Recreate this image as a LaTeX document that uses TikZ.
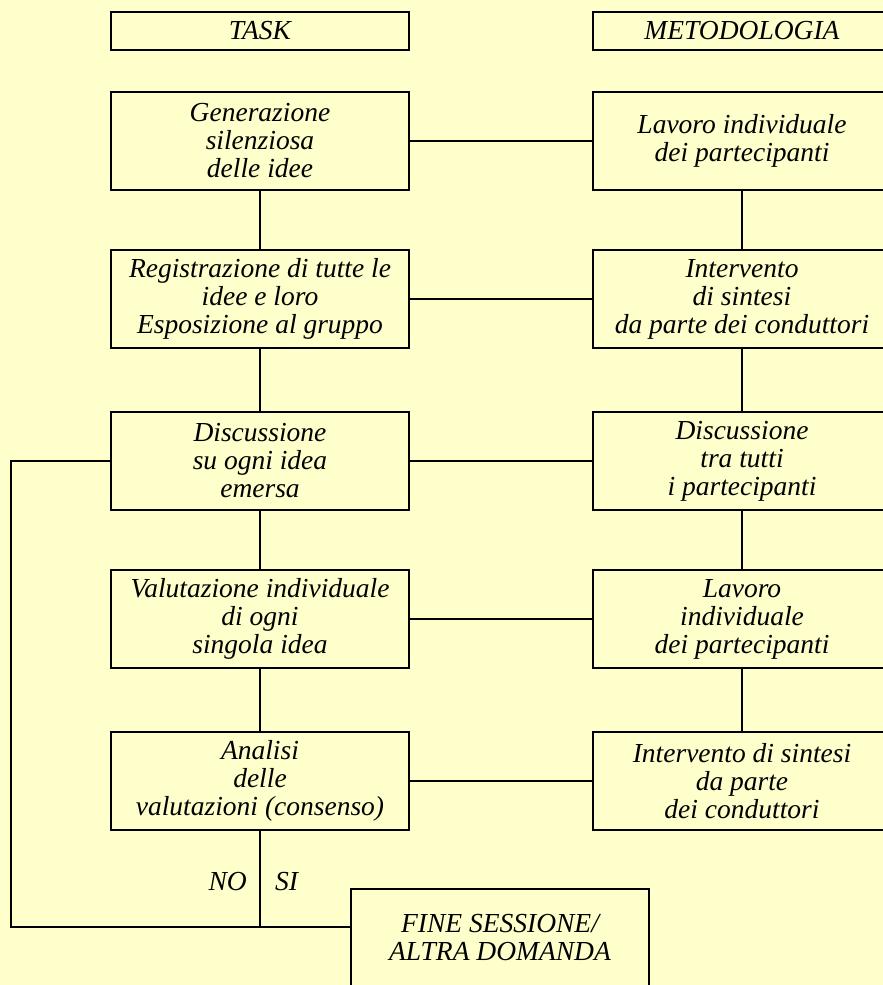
\documentclass[tikz,border=0pt]{standalone}
\usepackage{fontspec}
\setmainfont{Liberation Serif}
\definecolor{bgyellow}{HTML}{FFFFCC}
\begin{document}
\begin{tikzpicture}[x=1pt,y=-1pt,
  box/.style={draw=black,line width=1.5pt,fill=bgyellow,rectangle,minimum width=298pt,minimum height=98pt,inner sep=0pt,align=center,font=\fontsize{27.5}{28}\selectfont\itshape},
  headbox/.style={box,minimum height=38pt},
  conn/.style={draw=black,line width=1.5pt},
  lbl/.style={inner sep=0pt,font=\fontsize{27.5}{28}\selectfont\itshape}]
\useasboundingbox (0,0) rectangle (883,985);
\clip (0,0) rectangle (883,985);
\fill[bgyellow] (0,0) rectangle (883,985);
% headers
\node[headbox] (task) at (260,31) {TASK};
\node[headbox] (meto) at (742,31) {METODOLOGIA};
% left column
\node[box] (l1) at (260,141) {Generazione\\silenziosa\\ delle idee};
\node[box] (l2) at (260,299) {Registrazione di tutte le\\idee e loro\\Esposizione al gruppo};
\node[box] (l3) at (260,461) {Discussione\\su ogni idea\\emersa};
\node[box] (l4) at (260,619) {Valutazione individuale\\di ogni\\singola idea};
\node[box] (l5) at (260,781) {Analisi\\delle\\valutazioni (consenso)};
% right column
\node[box] (r1) at (742,141) {Lavoro individuale\\dei partecipanti};
\node[box] (r2) at (742,299) {Intervento\\di sintesi\\da parte dei conduttori};
\node[box] (r3) at (742,461) {Discussione\\tra tutti\\i partecipanti};
\node[box] (r4) at (742,619) {Lavoro\\individuale\\dei partecipanti};
\node[box] (r5) at (742,781) {Intervento di sintesi\\da parte\\dei conduttori};
% end
\node[box] (fine) at (500,938) {FINE SESSIONE/\\ALTRA DOMANDA};
% labels
\node[lbl,anchor=east] (no) at (247,882) {NO};
\node[lbl,anchor=west] (si) at (275,882) {SI};
% coordinates
\coordinate (j) at (260,927);
\coordinate (lc) at (11,927);
% vertical connectors
\draw[conn] (l1.south) -- (l2.north);
\draw[conn] (l2.south) -- (l3.north);
\draw[conn] (l3.south) -- (l4.north);
\draw[conn] (l4.south) -- (l5.north);
\draw[conn] (r1.south) -- (r2.north);
\draw[conn] (r2.south) -- (r3.north);
\draw[conn] (r3.south) -- (r4.north);
\draw[conn] (r4.south) -- (r5.north);
% horizontal connectors
\draw[conn] (l1.east) -- (r1.west);
\draw[conn] (l2.east) -- (r2.west);
\draw[conn] (l3.east) -- (r3.west);
\draw[conn] (l4.east) -- (r4.west);
\draw[conn] (l5.east) -- (r5.west);
% decision
\draw[conn] (l5.south) -- (j) -- (j -| fine.west);
\draw[conn] (j) -- (lc) |- (l3.west);
\end{tikzpicture}
\end{document}
